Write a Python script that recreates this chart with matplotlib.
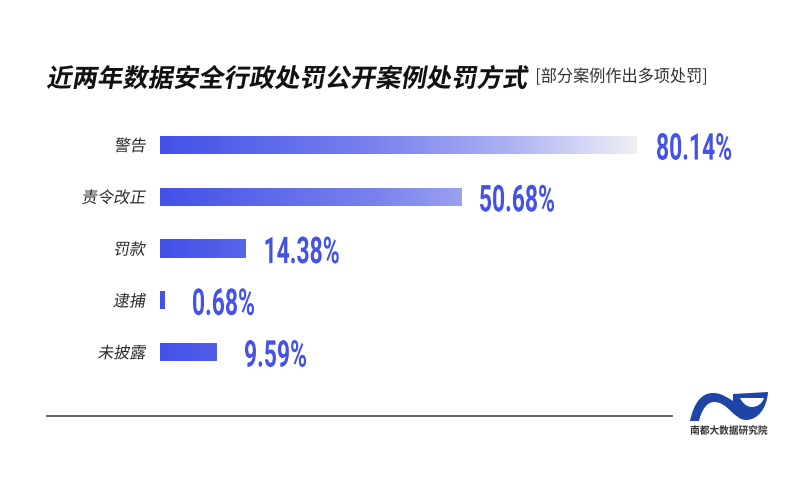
import numpy as np
import matplotlib
matplotlib.use("Agg")
import matplotlib.pyplot as plt
from matplotlib.textpath import TextPath
from matplotlib.font_manager import FontProperties
from matplotlib.patches import PathPatch
from matplotlib.path import Path
from matplotlib.transforms import Affine2D
from matplotlib.colors import LinearSegmentedColormap

# ---- data ----
categories = ["警告", "责令改正", "罚款", "逮捕", "未披露"]
values = [80.14, 50.68, 14.38, 0.68, 9.59]
value_labels = ["80.14%", "50.68%", "14.38%", "0.68%", "9.59%"]
title = "近两年数据安全行政处罚公开案例处罚方式"
subtitle = "[部分案例作出多项处罚]"
brand = "南都大数据研究院"

# style: gap (px) between bar end and its value label
label_pad = [21, 19, 20, 29, 28]

W, H = 800, 490
fig = plt.figure(figsize=(W / 100, H / 100), dpi=100, facecolor="white")

ax_left_px, ax_w_px = 160, 594
ax_top_px, ax_bot_px = 119.1, 377.9
ax = fig.add_axes([ax_left_px / W, (H - ax_bot_px) / H, ax_w_px / W, (ax_bot_px - ax_top_px) / H])
ax.set_xlim(0, 100)
ax.set_ylim(len(categories) - 0.5, -0.5)
ax.axis("off")

cmap = LinearSegmentedColormap.from_list(
    "grad", [(0.0, "#4351E8"), (0.45, "#7982EC"), (0.72, "#A9AFF1"), (1.0, "#EFEFF5")])
bar_h = 0.35
ypos = np.arange(len(categories))
bars = ax.barh(ypos, values, height=bar_h, color="none", edgecolor="none")
vmax = max(values)
grad = np.linspace(0, vmax, 512).reshape(1, -1)
for b in bars:
    im = ax.imshow(grad, cmap=cmap, vmin=0, vmax=vmax,
                   extent=[0, vmax, b.get_y() + b.get_height(), b.get_y()],
                   aspect="auto", interpolation="bilinear", zorder=2)
    im.set_clip_path(b)
ax.set_xlim(0, 100)
ax.set_ylim(len(categories) - 0.5, -0.5)

deco = fig.add_axes([0, 0, 1, 1])
deco.set_xlim(0, W)
deco.set_ylim(H, 0)
deco.axis("off")
deco.patch.set_alpha(0)


def ptext(x, y, s, height, fp, color, ha="left", sx=1.0, skew=0.0, size=None):
    tp = TextPath((0, 0), s, size=100, prop=fp)
    bb = tp.get_extents()
    k = height / bb.height if size is None else size / 100.0
    tr = Affine2D().translate(0, -(bb.y0 + bb.y1) / 2).skew_deg(skew, 0).scale(k * sx, -k)
    p = tp.transformed(tr)
    ext = p.get_extents()
    if ha == "left":
        dx = x - ext.x0
    elif ha == "right":
        dx = x - ext.x1
    else:
        dx = x - (ext.x0 + ext.x1) / 2
    p = p.transformed(Affine2D().translate(dx, y))
    deco.add_patch(PathPatch(p, facecolor=color, edgecolor="none", lw=0))


def to_px(xd, yd):
    dx, dy = ax.transData.transform((xd, yd))
    return dx, H - dy


cjk_heavy = FontProperties(family="Noto Sans CJK SC", weight="heavy")
cjk_bold = FontProperties(family="Noto Sans CJK SC", weight="bold")
cjk_reg = FontProperties(family="Noto Sans CJK SC", weight="regular")
cjk_med = FontProperties(family="Noto Sans CJK SC", weight="medium")
num_fp = FontProperties(family="Roboto", weight="bold")

ptext(47, 77, title, None, cjk_heavy, "#111111", size=25.3, skew=10)
ptext(537, 76, subtitle, None, cjk_reg, "#333333", size=17, sx=0.95)

for i, (cat, v, lab) in enumerate(zip(categories, values, value_labels)):
    x0, yc = to_px(0, i)
    ptext(x0 - 14, yc, cat, None, cjk_med, "#2a2a2a", ha="right", size=16, skew=10)
    xe, _ = to_px(v, i)
    ptext(xe + label_pad[i], yc + 1.5, lab, 27, num_fp, "#4452E6", sx=0.62)

deco.plot([47, 672], [416, 416], color="#555555", lw=1.3)

# logo
logo_blue = "#1E44A8"
outer = [
    (690, 421),
    (694, 402), (702, 393), (713, 393),
    (722, 393), (728, 398), (733, 401),
    (733, 394),
    (768, 392),
    (767, 408), (758, 420), (746, 420),
    (734, 420), (728, 402), (714, 402),
    (706, 402), (701, 412), (699, 421),
    (690, 421),
]
outer_codes = ([Path.MOVETO] + [Path.CURVE4] * 6 + [Path.LINETO, Path.LINETO]
               + [Path.CURVE4] * 9 + [Path.CLOSEPOLY])
deco.add_patch(PathPatch(Path(outer, outer_codes), facecolor=logo_blue, edgecolor="none"))
hole = [
    (740, 398), (764, 398),
    (762, 404), (757, 407), (752, 407),
    (746, 407), (742, 402), (740, 398),
    (740, 398),
]
hole_codes = [Path.MOVETO, Path.LINETO] + [Path.CURVE4] * 6 + [Path.CLOSEPOLY]
deco.add_patch(PathPatch(Path(hole, hole_codes), facecolor="white", edgecolor="none"))
ptext(729, 430, brand, None, cjk_bold, "#333333", ha="center", size=10.2, sx=0.95)

fig.savefig("out.png", dpi=100, facecolor="white")
